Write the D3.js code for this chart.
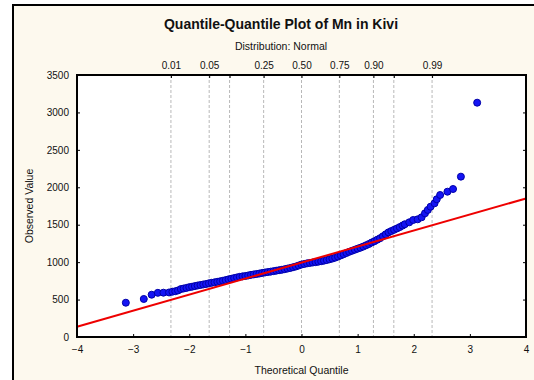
<!DOCTYPE html>
<html>
<head>
<meta charset="utf-8">
<script src="https://cdn.jsdelivr.net/npm/d3@7"></script>
<style>
  body { margin: 0; background: #ffffff; }
  svg text { font-family: "Liberation Sans", Arial, sans-serif; fill: #111; }
</style>
</head>
<body>
<svg id="drawing_region"></svg>
<script>
const theoretical = [
  -3.13, -2.81, -2.67, -2.56, -2.46, -2.36,
  -2.30, -2.25, -2.20, -2.15, -2.10, -2.05, -2.00, -1.95, -1.90, -1.85,
  -1.80, -1.75, -1.70, -1.65, -1.60, -1.55, -1.50, -1.45, -1.40, -1.35,
  -1.30, -1.25, -1.20, -1.15, -1.10, -1.05, -1.00, -0.95, -0.90, -0.85,
  -0.80, -0.75, -0.70, -0.65, -0.60, -0.55, -0.50, -0.45, -0.40, -0.35,
  -0.30, -0.25, -0.20, -0.15, -0.10, -0.05, 0.00, 0.05, 0.10, 0.15,
  0.20, 0.25, 0.30, 0.35, 0.40, 0.45, 0.50, 0.55, 0.60, 0.65,
  0.70, 0.75, 0.80, 0.85, 0.90, 0.95, 1.00, 1.05, 1.10, 1.15,
  1.20, 1.25, 1.30, 1.35, 1.40, 1.45, 1.50, 1.55, 1.60, 1.65,
  1.70, 1.75, 1.80,
  1.84, 1.92, 1.99, 2.07, 2.14, 2.20, 2.25, 2.30, 2.37, 2.41,
  2.47, 2.60, 2.70, 2.84, 3.13
]
const observed = [
  458, 508, 565, 590, 592, 595,
  605, 611, 622, 640, 648, 656, 666, 672, 680, 688,
  695, 702, 708, 717, 724, 730, 737, 744, 752, 760,
  770, 778, 787, 796, 804, 810, 815, 822, 830, 836,
  842, 848, 856, 862, 868, 873, 880, 886, 892, 898,
  906, 914, 922, 932, 942, 955, 968, 976, 984, 990,
  995, 1000, 1006, 1012, 1020, 1028, 1038, 1048, 1060, 1074,
  1090, 1106, 1122, 1138, 1152, 1166, 1180, 1193, 1208, 1225,
  1242, 1262, 1280, 1300, 1320, 1345, 1372, 1398, 1415, 1432,
  1450, 1468, 1488,
  1506, 1532, 1563, 1572, 1599, 1652, 1697, 1741, 1786, 1840,
  1897, 1941, 1977, 2142, 3130
]

const xTicks = [-4, -3, -2, -1, 0, 1, 2, 3, 4]
const yTicks = [0, 500, 1000, 1500, 2000, 2500, 3000, 3500]
const probGrid = [0.01, 0.05, 0.10, 0.25, 0.50, 0.75, 0.90, 0.95, 0.99]
const probLabels = ['0.01', '0.05', '', '0.25', '0.50', '0.75', '0.90', '', '0.99']

// fitted reference line: observed = intercept + slope * z
const fitIntercept = 994
const fitSlope = 214

const W = 534, H = 380
const margin = {top: 75, left: 77, right: 8, bottom: 43}

const svg = d3.select('#drawing_region').attr('width', W).attr('height', H)

// outer panel
svg.append('rect')
  .attr('x', 13).attr('y', 5).attr('width', W).attr('height', H)
  .attr('fill', '#fdf9ee').attr('stroke', '#000').attr('stroke-width', 2)

const iw = W - margin.left - margin.right
const ih = H - margin.top - margin.bottom

const x = d3.scaleLinear().domain([-4, 4]).range([0, iw])
const y = d3.scaleLinear().domain([0, 3500]).range([ih, 0])

const chart = svg.append('g').attr('transform', `translate(${margin.left},${margin.top})`)

chart.append('rect').attr('width', iw).attr('height', ih).attr('fill', '#fff')

// normal quantile (Acklam approximation) for the probability scale
const invNorm = p => {
  const a = [-39.69683028665376, 220.9460984245205, -275.9285104469687, 138.357751867269, -30.66479806614716, 2.506628277459239]
  const b = [-54.47609879822406, 161.5858368580409, -155.6989798598866, 66.80131188771972, -13.28068155288572]
  const c = [-0.007784894002430293, -0.3223964580411365, -2.400758277161838, -2.549732539343734, 4.374664141464968, 2.938163982698783]
  const d = [0.007784695709041462, 0.3224671290700398, 2.445134137142996, 3.754408661907416]
  const pl = 0.02425
  if (p < pl) {
    const q = Math.sqrt(-2 * Math.log(p))
    return (((((c[0]*q+c[1])*q+c[2])*q+c[3])*q+c[4])*q+c[5]) / ((((d[0]*q+d[1])*q+d[2])*q+d[3])*q+1)
  }
  if (p > 1 - pl) return -invNorm(1 - p)
  const q = p - 0.5, r = q * q
  return (((((a[0]*r+a[1])*r+a[2])*r+a[3])*r+a[4])*r+a[5])*q / (((((b[0]*r+b[1])*r+b[2])*r+b[3])*r+b[4])*r+1)
}

// probability grid lines
chart.selectAll('.grid').data(probGrid).enter()
  .append('line')
  .attr('class', 'grid')
  .attr('x1', d => x(invNorm(d))).attr('x2', d => x(invNorm(d)))
  .attr('y1', 0).attr('y2', ih)
  .attr('stroke', '#b8b8b8').attr('stroke-width', 1)
  .attr('stroke-dasharray', '3,2')

// top probability axis
const topAxis = d3.axisTop(x).tickValues(probGrid.map(invNorm))
  .tickFormat((d, i) => probLabels[i]).tickSize(-3).tickSizeOuter(0).tickPadding(6)
const topG = chart.append('g').call(topAxis)
topG.select('.domain').remove()
topG.selectAll('text').attr('font-size', 10)

// data points
chart.selectAll('circle').data(theoretical).enter()
  .append('circle')
  .attr('cx', d => x(d))
  .attr('cy', (d, i) => y(observed[i]))
  .attr('r', 3.5)
  .attr('fill', '#1414f4')
  .attr('stroke', '#0000a8')
  .attr('stroke-width', 1)

// fitted line
chart.append('line')
  .attr('x1', x(-4)).attr('y1', y(fitIntercept + fitSlope * -4))
  .attr('x2', x(4)).attr('y2', y(fitIntercept + fitSlope * 4))
  .attr('stroke', '#ee0000').attr('stroke-width', 2)

// axes
const xAxis = d3.axisBottom(x).tickValues(xTicks).tickSize(-3).tickSizeOuter(0).tickPadding(9)
const xg = chart.append('g').attr('transform', `translate(0,${ih})`).call(xAxis)
xg.select('.domain').remove()
xg.selectAll('text').attr('font-size', 10)

const yAxis = d3.axisLeft(y).tickValues(yTicks).tickSize(-3).tickSizeOuter(0).tickPadding(8)
  .tickFormat(d3.format('d'))
const yg = chart.append('g').call(yAxis)
yg.select('.domain').remove()
yg.selectAll('text').attr('font-size', 10)

const yAxisR = d3.axisRight(y).tickValues(yTicks).tickSize(-3).tickFormat('')
const yrg = chart.append('g').attr('transform', `translate(${iw},0)`).call(yAxisR)
yrg.select('.domain').remove()

// plot frame
chart.append('rect').attr('width', iw).attr('height', ih)
  .attr('fill', 'none').attr('stroke', '#000').attr('stroke-width', 2)

// titles
svg.append('text').attr('x', 281).attr('y', 29).attr('text-anchor', 'middle')
  .attr('font-size', 14).attr('font-weight', 'bold')
  .text('Quantile-Quantile Plot of Mn in Kivi')
svg.append('text').attr('x', 281).attr('y', 50).attr('text-anchor', 'middle')
  .attr('font-size', 10.5).text('Distribution: Normal')
svg.append('text').attr('x', margin.left + iw / 2).attr('y', 374).attr('text-anchor', 'middle')
  .attr('font-size', 10.5).text('Theoretical Quantile')
svg.append('text').attr('transform', `translate(33,${margin.top + ih / 2}) rotate(-90)`)
  .attr('text-anchor', 'middle').attr('font-size', 10.5).text('Observed Value')
</script>
</body>
</html>
